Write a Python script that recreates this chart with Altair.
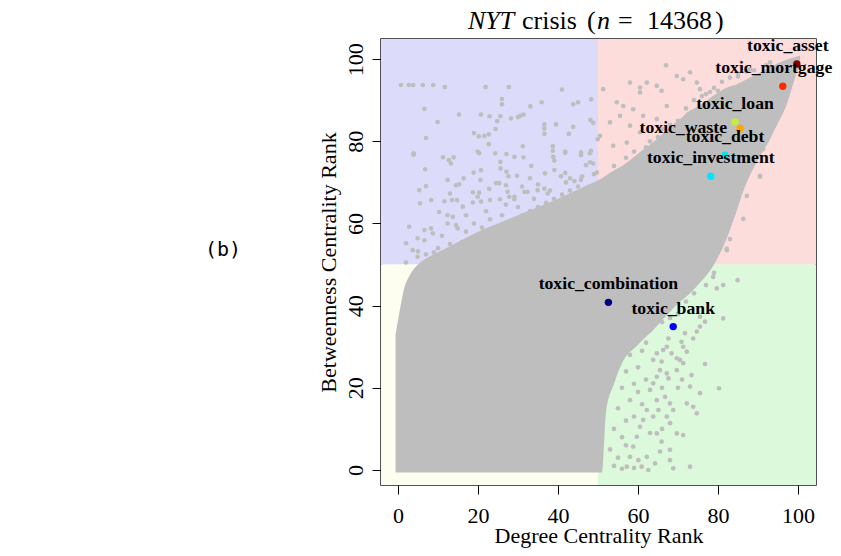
import altair as alt
import pandas as pd

# ---------------- data ----------------
# dense core of the 14368-point cloud: outline as (x, upper y, lower y)
core_x = [-0.6, 0.3, 1.5, 3, 5, 8, 10, 15, 20, 25, 30, 35, 40, 45, 50, 51,
          52, 54, 56, 60, 64.7, 68, 70, 73, 75, 79, 82, 85, 86, 90, 93, 95, 97, 98.5, 100.5]
core_hi = [33, 38, 44, 47.5, 50, 52, 53, 55.5, 58, 60, 62, 64, 66, 68.3, 70.5, 71,
           71.7, 72.9, 74, 77, 80.5, 83.5, 85, 87.5, 88.5, 91.2, 93, 94, 94.5, 96.5, 98, 99, 99.8, 100.3, 100.8]
core_lo = [-0.6, -0.6, -0.6, -0.6, -0.6, -0.6, -0.6, -0.6, -0.6, -0.6, -0.6, -0.6, -0.6, -0.6, -0.6, -0.6,
           14, 21, 26, 30.5, 35, 38.5, 40.5, 43, 45, 50, 56, 64, 67, 75.5, 80.5, 84.5, 88.5, 93, 99.5]

# individual scattered points outside the dense core
pts_x = [0.75, 2.7, 3.8, 6.2, 8.8, 11.7, 21.9, 27.7, 41, 26, 26, 35.9, 45, 43.8, 48.3, 33.1, 6.6, 15.25,
         20.75, 22.9, 25.6, 28.25, 30, 30.6, 31.4, 24.8, 9.9, 48.1, 48.8, 36.6, 36.6, 36.6, 39.5, 43.8,
         42.7, 24.4, 19, 20.2, 21.6, 22.7, 7, 22.7, 31.2, 38.7, 38.7, 41.8, 19.9, 3.9, 49.9, 45.75, 48.25,
         3.9, 11.25, 12.7, 13.25, 13.9, 20.3, 24.3, 27.1, 29.1, 31.4, 25.6, 25.6, 33.3, 38.8, 39.1, 41.8,
         45.75, 48, 6.8, 18.9, 20.75, 27.1, 27.6, 29.75, 16.4, 12.4, 14.5, 15.3, 20.6, 24.5, 25.3, 27,
         36.75, 39.1, 40.75, 41.8, 44.1, 45.75, 47, 48.8, 5.3, 7, 13, 11.6, 13.5, 14.75, 18.7, 19.9, 20.3,
         22.8, 27.4, 27.8, 29.1, 31.6, 32.4, 34.9, 36.6, 37.4, 8.3, 5.5, 16.2, 18.7, 20.75, 23, 25.5, 27,
         29.1, 10.3, 12.4, 13.7, 12.4, 14.5, 14.9, 2.8, 6.6, 8.25, 2, 4.9, 6.6, 8.7, 3.7, 4.9,
         17, 19, 21, 23, 26, 28, 31, 33, 35, 37, 39, 41, 43, 45, 30, 34, 38, 42, 18, 22, 24, 27, 32, 36,
         40, 44, 10, 13, 16, 11, 46, 49, 43, 35, 31, 33, 22, 17, 9, 7, 2, 5,
         67, 58, 60.5, 60.5, 62.2, 64.7, 65.9, 69.7, 71.3, 73, 74.7, 75.5, 51.3, 54.7, 56.3, 58.8, 61.3,
         55.5, 53, 58, 60.5, 64.7, 67.2, 50.5, 53.8, 57.2, 89.7, 91.3, 90.5, 86.3, 94.7, 83, 82.2, 48,
         49.7, 51.3, 87.2, 90.5, 82.2,
         70, 72, 74, 77, 79, 81, 83, 85, 88, 92, 63, 66, 62, 57, 54, 59, 68, 65, 78, 80, 76, 72.5, 69,
         85, 87, 89, 93,
         84.9, 81.3, 80.25, 76.75, 73.4, 75.5, 73, 72.2, 73.8, 74.7, 70.5, 71.3, 67.6, 69.7, 71.3, 69.7,
         68, 67.2, 73, 68.8, 68, 68, 65.5, 64.7, 65.9, 64.25, 62.6, 60.9, 62.2, 71.3, 72.2, 69.7, 67.2,
         65.5, 64.7, 63.8, 63, 68.8, 68, 66.75, 64.7, 65.1, 63.8, 62.2, 61.3, 60.5, 59.7, 58.8, 58, 60.1,
         57.2, 75.5, 75.5, 76.75, 74.7, 81.3, 79.7, 78.8, 77.2, 75.5, 73, 67.6, 67.2, 66.3, 64.7, 63.8,
         65.9, 68.4, 71.75, 70.9, 73.8,
         53, 54, 55, 56, 57, 58, 60, 62, 55, 56, 57, 58, 59, 60, 61, 62, 63, 66, 68, 70, 72, 74, 77, 79,
         61, 62, 60, 59, 57, 54, 56, 59, 63, 66, 70, 71, 66]
pts_y = [93.7, 93.7, 93.7, 93.7, 93.7, 93.2, 93.2, 93.2, 92.6, 90.3, 89.0, 89.5, 89.5, 89, 90.2, 88.5, 87.9,
         86.5, 86.5, 86.1, 86.1, 85.6, 85.9, 86.2, 86.5, 84.9, 84.7, 85.2, 84.5, 84.1, 83.1, 81.8, 84.1,
         83.5, 81.8, 83, 82, 81.2, 81.3, 81.7, 80.8, 79.3, 78.8, 78.8, 77.7, 77.5, 77.5, 77.1, 80.5, 77.3,
         77.7,
         76.7, 76.1, 75.4, 74.6, 76.1, 77.1, 77.1, 76.9, 76.2, 76.1, 75, 73.4, 74, 76.2, 75.3, 77.2, 76.6,
         77.1, 73.2, 72.4, 73, 72.6, 71.5, 71.6, 71, 70.6, 69.3, 69.5, 70.6, 69.8, 69.8, 69.3, 72.2, 73,
         71.5, 72.3, 70.3, 70.6, 74.2, 74.6, 68.1, 69.1, 67.3, 65.4, 65.7, 65.7, 67.6, 66.5, 67.5, 68.4,
         67.7, 66.5, 66.5, 67.7, 67.7, 68.1, 68.5, 67.3, 65.7, 64.9, 64.1, 65.1, 65.3, 65.7, 65.9, 64.6,
         65.9, 62.8, 62, 61.6, 60, 59.6, 58.8, 59.2, 58.4, 58.8, 55.2, 56.4, 55.9, 57.6, 53.5, 51.9,
         58, 60, 59, 61, 62, 60, 62, 63, 64, 65, 66, 67, 68, 69, 64, 66, 68, 70, 56, 57.5, 59, 58.5, 60.5,
         62, 64.5, 66.5, 54, 55, 55.5, 57, 71.5, 72, 71, 69.5, 69, 71, 63, 62, 53, 52.5, 50.5, 53.2,
         98.5, 94.3, 93.1, 91.9, 94.3, 93.5, 92.3, 95.9, 95.1, 96.8, 94.3, 92.7, 92.7, 89.5, 88.6, 87.8,
         86.2, 86.2, 84.6, 83.8, 82.2, 85.4, 88.6, 81.3, 78.9, 79.7, 82.2, 78.1, 71.6, 61.1, 88.6, 56.2,
         53.8, 74.9, 72.4, 70, 66.7, 71.4, 53.5,
         85, 88, 90, 91.5, 93, 94.5, 95.5, 96.5, 97.5, 98.5, 80, 83, 78.5, 76, 74, 77.5, 84, 81, 92, 92.3,
         91, 86.5, 82.8, 95.8, 97, 97.3, 99.2,
         46.2, 36.9, 19.9, 25.8, 23.1, 18.7, 20.3, 16.2, 15.4, 13.8, 26.8, 26, 22.3, 24.3, 8.5, 8.9, 11.4,
         13, 0.8, 0.4, 4.9, 2.4, 4.5, 8.9, 6.9, 1.6, 0, 0.8, 3.2, 30, 28.8, 27.2, 23.5, 24.3, 22.7, 21.1,
         19.5, 14.6, 16.2, 17.8, 17, 14.6, 13, 14.6, 12.2, 10.5, 8.1, 5.7, 3.2, 2.4, 0.8, 37.3, 34.9, 36.1,
         33.7, 45, 44.2, 47, 48.7, 49.5, 50.3, 32, 30, 29.2, 28.4, 26.8, 26.4, 28.4, 33.3, 31.2, 32,
         5, 10, 15, 20, 24, 28, 33, 36, 3, 8, 12, 17, 21, 25, 29, 31, 34, 36, 37, 38, 41, 43, 45, 48,
         16, 22, 19, 13, 6, 1, 0.3, 0.5, 9, 10, 20, 22, 20]

# highlighted words
word_names = ["toxic_asset", "toxic_mortgage", "toxic_loan", "toxic_waste",
              "toxic_debt", "toxic_investment", "toxic_combination", "toxic_bank"]
word_x = [99.7, 96.2, 84.25, 85.5, 81.75, 78.2, 52.6, 68.8]
word_y = [98.8, 93.4, 84.7, 83.1, 76.6, 71.5, 40.8, 34.9]
word_colors = ["#8b0000", "#ff2a00", "#c4ee3a", "#ffa500",
               "#00e5ee", "#00e5ff", "#00008b", "#0000ff"]
left_labelled = ["toxic_waste"]
edge_labelled = ["toxic_asset", "toxic_mortgage"]

quad_names = ["tl", "tr", "bl", "br"]
quad_x0 = [-10, 50, -10, 50]
quad_x1 = [50, 110, 50, 110]
quad_y0 = [50, 50, -10, -10]
quad_y1 = [110, 110, 50, 50]
quad_colors = ["#dcdcfa", "#fddcdc", "#fdfdf0", "#dcf9dc"]

ticks = [0, 20, 40, 60, 80, 100]

# ---------------- tables ----------------
quad_df = pd.DataFrame({"q": quad_names, "x0": quad_x0, "x1": quad_x1, "y0": quad_y0, "y1": quad_y1})
core_df = pd.DataFrame({"x": core_x, "hi": core_hi, "lo": core_lo})
pts_df = pd.DataFrame({"x": pts_x, "y": pts_y})
word_df = pd.DataFrame({"name": word_names, "x": word_x, "y": word_y})
dummy = pd.DataFrame({"a": [0]})

SERIF = "Liberation Serif"
GRAY = "#bebebe"
xs = alt.Scale(domain=[-4.25, 104.5], nice=False, zero=False)
ys = alt.Scale(domain=[-3.65, 104.9], nice=False, zero=False)

x_axis = alt.Axis(values=ticks, title="Degree Centrality Rank", domain=False, grid=False,
                  tickSize=9, tickColor="black", tickWidth=1,
                  labelFont=SERIF, labelFontSize=22, labelColor="black", labelPadding=11,
                  labelBaseline="top", labelAlign="center",
                  titleFont=SERIF, titleFontSize=22, titleFontWeight="normal", titleColor="black",
                  titleBaseline="alphabetic", titleY=57)
y_axis = alt.Axis(values=ticks, title="Betweenness Centrality Rank", domain=False, grid=False,
                  tickSize=9, tickColor="black", tickWidth=1,
                  labelFont=SERIF, labelFontSize=22, labelColor="black", labelPadding=10,
                  labelAngle=270, labelAlign="center", labelBaseline="alphabetic",
                  titleFont=SERIF, titleFontSize=22, titleFontWeight="normal", titleColor="black",
                  titleAngle=270, titleAlign="center", titleBaseline="alphabetic",
                  titleX=-46, titleY=223)


def X(field):
    return alt.X(field, scale=xs, axis=x_axis, title="Degree Centrality Rank")


def Y(field):
    return alt.Y(field, scale=ys, axis=y_axis, title="Betweenness Centrality Rank")


quads = alt.Chart(quad_df).mark_rect(clip=True).encode(
    x=X("x0:Q"), x2="x1:Q", y=Y("y0:Q"), y2="y1:Q",
    color=alt.Color("q:N", scale=alt.Scale(domain=quad_names, range=quad_colors), legend=None),
)

core = alt.Chart(core_df).mark_area(color=GRAY, interpolate="monotone").encode(
    x=X("x:Q"), y=Y("hi:Q"), y2="lo:Q",
)

cloud = alt.Chart(pts_df).mark_circle(color=GRAY, size=22, opacity=1).encode(
    x=X("x:Q"), y=Y("y:Q"),
)

words = alt.Chart(word_df).mark_circle(size=55, opacity=1).encode(
    x=X("x:Q"), y=Y("y:Q"),
    color=alt.Color("name:N", scale=alt.Scale(domain=word_names, range=word_colors), legend=None),
)

LBL = dict(font=SERIF, fontSize=17.7, fontWeight="bold", color="black", baseline="middle")
label_above = alt.Chart(word_df).transform_filter(
    ~alt.FieldOneOfPredicate(field="name", oneOf=left_labelled + edge_labelled)
).mark_text(dy=-18, align="center", **LBL).encode(
    x=X("x:Q"), y=Y("y:Q"), text="name:N",
)
# the two labels that run past the right frame are nudged so they stay on the page
label_edge = alt.Chart(word_df).transform_filter(
    alt.FieldOneOfPredicate(field="name", oneOf=edge_labelled)
).mark_text(dy=-18, dx=-9, align="center", **LBL).encode(
    x=X("x:Q"), y=Y("y:Q"), text="name:N",
)
label_left = alt.Chart(word_df).transform_filter(
    alt.FieldOneOfPredicate(field="name", oneOf=left_labelled)
).mark_text(dx=-13, dy=-1, align="right", **LBL).encode(
    x=X("x:Q"), y=Y("y:Q"), text="name:N",
)

# title pieces (mixed italic / upright), positioned in pixels above the plot
title_pieces = [("NYT", "italic", 87), ("crisis", "normal", 141), ("(", "normal", 206),
                ("n", "italic", 216), ("=", "normal", 237), ("14368", "normal", 266),
                (")", "normal", 334)]
title_layers = []
for txt, style, px in title_pieces:
    title_layers.append(
        alt.Chart(dummy).mark_text(font=SERIF, fontSize=26, fontStyle=style, color="black",
                                   align="left", baseline="alphabetic").encode(
            x=alt.value(px), y=alt.value(-10), text=alt.value(txt))
    )

panel_tag = alt.Chart(dummy).mark_text(font="DejaVu Sans Mono", fontSize=20, color="black",
                                       align="left", baseline="middle").encode(
    x=alt.value(-176), y=alt.value(211), text=alt.value("(b)"))

chart = alt.layer(quads, core, cloud, words, label_above, label_edge, label_left,
                  *title_layers, panel_tag).resolve_scale(
    color="independent"
).properties(
    width=435, height=446,
    autosize=alt.AutoSizeParams(type="none"),
    padding={"left": 373, "top": 31, "right": 17, "bottom": 63},
    background="white",
).configure_view(stroke="#1a1a1a", strokeWidth=1.5)

chart.save("out.html", embed_options={"renderer": "svg", "actions": False})
